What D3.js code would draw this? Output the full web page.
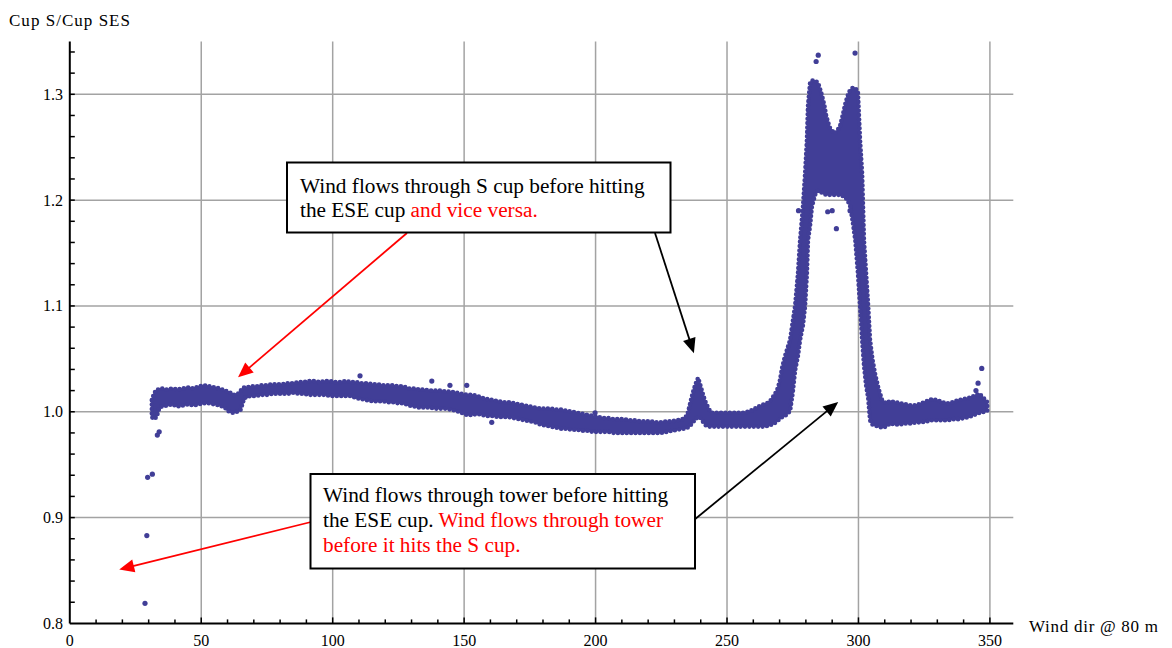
<!DOCTYPE html>
<html><head><meta charset="utf-8">
<script src="https://cdn.jsdelivr.net/npm/d3@7"></script>
<style>html,body{margin:0;padding:0;background:#fff;}svg{display:block;}</style>
</head><body>
<svg id="chart" width="1172" height="648"></svg>
<script>
// ---------------- data ----------------
const xTicks = [0, 50, 100, 150, 200, 250, 300, 350];
const yTicks = [0.8, 0.9, 1.0, 1.1, 1.2, 1.3];
const xTitle = "Wind dir @ 80 m";
const yTitle = "Cup S/Cup SES";

// dense point cloud read as [wind dir, lowest ratio, highest ratio] per direction column
const bandRanges = [
[31.2,0.995,1.011],[32,0.993,1.017],[33,0.995,1.021],[34,1.003,1.021],[35,1.005,1.022],
[37,1.006,1.021],[39,1.007,1.022],[41,1.005,1.021],[43,1.006,1.022],[45,1.007,1.023],
[47,1.006,1.022],[49,1.007,1.024],[51,1.008,1.025],[53,1.008,1.024],[55,1.007,1.023],
[57,1.006,1.022],[59,1.004,1.020],[60,1.001,1.019],[61,1.000,1.018],[62,0.999,1.016],
[63,1.000,1.016],[64,1.000,1.017],[65,1.002,1.020],[66,1.010,1.023],[67,1.014,1.023],
[69,1.015,1.024],[71,1.015,1.024],[73,1.016,1.025],[75,1.016,1.025],[77,1.017,1.026],
[79,1.017,1.026],[81,1.017,1.026],[83,1.017,1.027],[85,1.018,1.027],[87,1.017,1.028],
[89,1.017,1.028],[91,1.016,1.029],[93,1.016,1.029],[95,1.016,1.028],[97,1.016,1.029],
[99,1.015,1.029],[101,1.015,1.028],[103,1.015,1.028],[105,1.015,1.029],[107,1.015,1.028],
[109,1.013,1.028],[111,1.012,1.027],[113,1.011,1.027],[115,1.010,1.026],[117,1.010,1.026],
[119,1.010,1.025],[121,1.009,1.025],[123,1.009,1.025],[125,1.008,1.024],[127,1.008,1.024],
[129,1.006,1.022],[131,1.005,1.022],[133,1.004,1.021],[135,1.004,1.021],[137,1.004,1.020],
[139,1.003,1.020],[141,1.003,1.020],[143,1.003,1.019],[145,1.002,1.019],[147,1.001,1.018],
[149,0.999,1.017],[151,0.997,1.016],[153,0.997,1.016],[155,0.998,1.015],[157,0.997,1.013],
[159,0.996,1.012],[161,0.996,1.011],[163,0.995,1.010],[165,0.995,1.009],[167,0.995,1.009],
[169,0.994,1.008],[171,0.993,1.007],[173,0.992,1.006],[175,0.991,1.005],[177,0.990,1.004],
[179,0.988,1.003],[181,0.987,1.003],[183,0.986,1.003],[185,0.985,1.002],[187,0.984,1.002],
[189,0.984,1.001],[191,0.983,1.000],[193,0.983,0.999],[195,0.982,0.998],[197,0.982,0.997],
[199,0.981,0.996],[201,0.981,0.995],[203,0.981,0.994],[205,0.981,0.994],[207,0.980,0.993],
[209,0.980,0.993],[211,0.980,0.993],[213,0.980,0.992],[215,0.980,0.992],[217,0.980,0.991],
[219,0.980,0.991],[221,0.980,0.991],[223,0.980,0.990],[225,0.980,0.990],[227,0.981,0.991],
[229,0.982,0.991],[231,0.983,0.992],[233,0.984,0.993],[234,0.984,0.994],[235,0.985,0.998],
[236,0.987,1.008],[237,0.990,1.018],[238,0.993,1.026],[239,0.995,1.032],[240,0.994,1.024],
[241,0.990,1.015],[242,0.987,1.008],[243,0.986,1.003],[244,0.986,0.999],[246,0.986,0.999],
[248,0.986,0.999],[250,0.986,0.999],[252,0.986,0.999],[254,0.986,0.999],[256,0.986,0.999],
[258,0.986,1.000],[260,0.986,1.002],[262,0.986,1.005],[264,0.986,1.007],[266,0.987,1.009],
[267,0.988,1.012],[268,0.989,1.016],[269,0.991,1.020],[270,0.993,1.028],[271,0.995,1.042],
[272,0.996,1.052],[273,0.998,1.060],[274,1.001,1.068],[275,1.018,1.085],[275.9,1.039,1.100],
[277,1.053,1.131],[277.8,1.068,1.162],[278.9,1.082,1.194],[279.7,1.100,1.225],[280.4,1.131,1.257],
[280.8,1.162,1.289],[281.6,1.176,1.311],[282.3,1.194,1.313],[283.5,1.205,1.313],[284.6,1.209,1.311],
[285.4,1.208,1.305],[286.1,1.207,1.299],[287,1.206,1.290],[287.7,1.205,1.280],[288.5,1.205,1.273],
[289.2,1.205,1.268],[290.2,1.205,1.265],[291.1,1.205,1.263],[292,1.205,1.266],[293,1.205,1.270],
[294,1.204,1.280],[294.9,1.203,1.290],[295.8,1.200,1.298],[296.8,1.195,1.304],[297.8,1.180,1.306],
[298.8,1.162,1.306],[299.8,1.131,1.302],[300.6,1.100,1.257],[301.4,1.068,1.225],[302.1,1.044,1.162],
[302.9,1.025,1.131],[303.7,1.013,1.100],[304.4,0.992,1.068],[305.3,0.988,1.050],[306.3,0.987,1.036],
[307.6,0.986,1.022],[309,0.985,1.011],[310.5,0.986,1.008],[312,0.989,1.010],[314,0.988,1.009],
[316,0.988,1.008],[318,0.989,1.007],[320,0.989,1.006],[322,0.990,1.006],[324,0.990,1.008],
[326,0.991,1.010],[328,0.992,1.012],[330,0.992,1.011],[332,0.992,1.009],[334,0.992,1.008],
[336,0.993,1.009],[338,0.993,1.011],[340,0.994,1.012],[342,0.995,1.013],[344,0.997,1.015],
[346,0.999,1.017],[348,1.000,1.012],[349,1.001,1.009]
];

// isolated points [wind dir, ratio]
const outliers = [
[28.6,0.819],[29.3,0.883],[29.6,0.938],[31.4,0.941],[33.3,0.978],[34.0,0.981],
[110.4,1.034],[137.7,1.029],[144.6,1.025],[151.0,1.025],[160.5,0.990],[199.8,0.999],
[283.9,1.331],[284.7,1.337],[298.7,1.339],[277.2,1.190],[288.3,1.189],[290.0,1.190],
[291.6,1.173],[296.8,1.190],[344.7,1.020],[345.5,1.027],[346.9,1.041]
];

// annotation texts: each line is a list of [text, colour]
const note1Lines = [
  [["Wind flows through S cup before hitting", "#000"]],
  [["the ESE cup ", "#000"], ["and vice versa.", "#ff0000"]]
];
const note2Lines = [
  [["Wind flows through tower before hitting", "#000"]],
  [["the ESE cup. ", "#000"], ["Wind flows through tower", "#ff0000"]],
  [["before it hits the S cup.", "#ff0000"]]
];
// arrow targets in data coordinates [wind dir, ratio]
const arrowTargets = {
  red1: [64.0, 1.0326],
  black1: [237.4, 1.0553],
  red2: [18.8, 0.851],
  black2: [292.3, 1.0093]
};

// ---------------- layout ----------------
const svg = d3.select("#chart");
const x = d3.scaleLinear().domain([0, 358.9]).range([69.8, 1013.3]);
const y = d3.scaleLinear().domain([0.8, 1.35]).range([623.4, 41.4]);
const serif = "'Liberation Serif','Times New Roman',serif";
const dotColor = "#413e97";
const R = 2.6;

// gridlines
const grid = svg.append("g").attr("stroke", "#a3a3a3").attr("stroke-width", 1.5);
grid.selectAll("line.v").data(xTicks.filter(d => d > 0)).join("line")
  .attr("x1", d => x(d)).attr("x2", d => x(d))
  .attr("y1", y(1.35)).attr("y2", y(0.8));
grid.selectAll("line.h").data(yTicks.filter(d => d > 0.8)).join("line")
  .attr("x1", x(0)).attr("x2", x(358.9))
  .attr("y1", d => y(d)).attr("y2", d => y(d));

// dense cloud drawn as the envelope of the points, edged with dots
const area = d3.area()
  .x(d => x(d[0]))
  .y0(d => y(d[1]))
  .y1(d => y(d[2]));
svg.append("path").datum(bandRanges)
  .attr("d", area)
  .attr("fill", dotColor).attr("stroke", dotColor).attr("stroke-width", 1)
  .attr("stroke-linejoin", "round");
svg.append("path").datum(bandRanges)
  .attr("d", area)
  .attr("fill", "none").attr("stroke", dotColor).attr("stroke-width", 4.6)
  .attr("stroke-linecap", "round").attr("stroke-dasharray", "0 4.4");

svg.append("g").attr("fill", dotColor).selectAll("circle").data(outliers).join("circle")
  .attr("cx", d => x(d[0])).attr("cy", d => y(d[1])).attr("r", R);

// axes
const ax = svg.append("g").attr("stroke", "#000");
ax.append("line").attr("x1", x(0)).attr("x2", x(358.9)).attr("y1", y(0.8)).attr("y2", y(0.8)).attr("stroke-width", 2);
ax.append("line").attr("x1", x(0)).attr("x2", x(0)).attr("y1", y(0.8)).attr("y2", y(1.35)).attr("stroke-width", 2);
ax.selectAll("line.xm").data(d3.range(10, 359, 10)).join("line")
  .attr("x1", d => x(d)).attr("x2", d => x(d))
  .attr("y1", y(0.8)).attr("y2", d => y(0.8) - (d % 50 === 0 ? 6 : 4)).attr("stroke-width", 1.5);
ax.selectAll("line.ym").data(d3.range(0.82, 1.351, 0.02)).join("line")
  .attr("y1", d => y(d)).attr("y2", d => y(d))
  .attr("x1", x(0)).attr("x2", x(0) + 5).attr("stroke-width", 1.5);

// tick labels
svg.append("g").attr("font-family", serif).attr("font-size", 16).attr("text-anchor", "middle")
  .selectAll("text").data(xTicks).join("text")
  .attr("x", d => x(d)).attr("y", 646).text(d => d);
svg.append("g").attr("font-family", serif).attr("font-size", 16).attr("text-anchor", "end")
  .selectAll("text").data(yTicks).join("text")
  .attr("x", 63).attr("y", d => y(d) + 5.5).text(d => d.toFixed(1));

// axis titles
svg.append("text").attr("x", 9).attr("y", 26).attr("font-family", serif).attr("font-size", 17)
  .attr("textLength", 121).attr("lengthAdjust", "spacing").text(yTitle);
svg.append("text").attr("x", 1029).attr("y", 632).attr("font-family", serif).attr("font-size", 17)
  .attr("textLength", 129).attr("lengthAdjust", "spacing").text(xTitle);

// arrows
function arrow(x1, y1, x2, y2, color) {
  const g = svg.append("g");
  const dx = x2 - x1, dy = y2 - y1, L = Math.hypot(dx, dy);
  const ux = dx / L, uy = dy / L, hl = 15, hw = 6.5;
  const bx = x2 - ux * hl, by = y2 - uy * hl;
  g.append("line").attr("x1", x1).attr("y1", y1).attr("x2", bx + ux * 2).attr("y2", by + uy * 2)
    .attr("stroke", color).attr("stroke-width", 1.8);
  g.append("path").attr("fill", color)
    .attr("d", `M${x2},${y2}L${bx - uy * hw},${by + ux * hw}L${bx + uy * hw},${by - ux * hw}Z`);
}

// annotation boxes
function note(bx, by, bw, bh, tx, ty, lh, lines) {
  svg.append("rect").attr("x", bx).attr("y", by).attr("width", bw).attr("height", bh)
    .attr("fill", "#fff").attr("stroke", "#000").attr("stroke-width", 2);
  const t = svg.append("text").attr("font-family", serif).attr("font-size", 21.3);
  lines.forEach((ln, i) => {
    ln.forEach((seg, j) => {
      const ts = t.append("tspan").attr("fill", seg[1]).text(seg[0]);
      if (j === 0) ts.attr("x", tx).attr("y", ty + i * lh);
    });
  });
}

arrow(407, 233, x(arrowTargets.red1[0]), y(arrowTargets.red1[1]), "#ff0000");
arrow(655, 233, x(arrowTargets.black1[0]), y(arrowTargets.black1[1]), "#000");
arrow(311, 522, x(arrowTargets.red2[0]), y(arrowTargets.red2[1]), "#ff0000");
arrow(694, 520, x(arrowTargets.black2[0]), y(arrowTargets.black2[1]), "#000");

note(287, 162.5, 383.5, 70, 300, 193, 24, note1Lines);
note(310.5, 474, 384.5, 94.5, 323, 502, 25, note2Lines);
</script>
</body></html>
